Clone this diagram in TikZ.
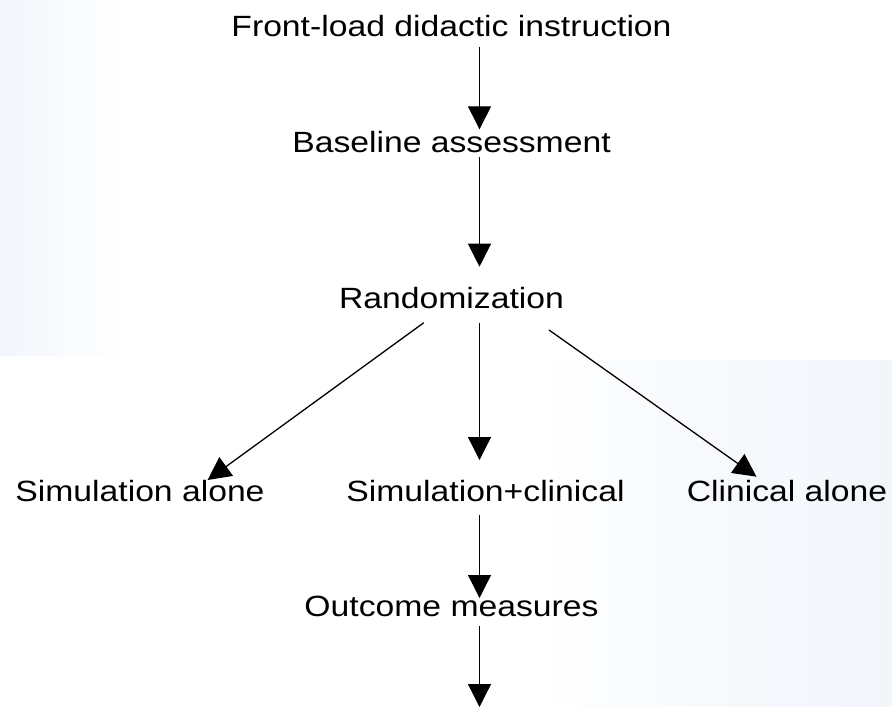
\documentclass[tikz,border=0pt]{standalone}
\usepackage{fontspec}
\newfontfamily\labfont{Liberation Sans}[FakeStretch=1.15]
\usetikzlibrary{arrows.meta}
\definecolor{tintA}{RGB}{242,246,251}
\definecolor{tintB}{RGB}{248,250,253}
\begin{document}
\begin{tikzpicture}[x=1pt,y=-1pt,
  lab/.style={inner sep=0pt,anchor=base,font=\labfont\fontsize{29.3}{32}\selectfont},
  arr/.style={line width=1.3pt,-{Triangle[length=23pt,width=23pt]}},
  ln/.style={line width=1.3pt}]
\useasboundingbox (0,0) rectangle (892,707);
% faint background tints
\fill[white] (0,0) rectangle (892,707);
\shade[left color=tintA,right color=white] (0,0) rectangle (125,355);
\shade[left color=white,right color=tintB] (540,360) rectangle (672,707);
\shade[left color=tintB,right color=tintA] (672,360) rectangle (892,707);
% nodes
\node[lab] (fl) at (451.5,36.7) {Front-load didactic instruction};
\node[lab] (ba) at (451.5,152.7) {Baseline assessment};
\node[lab] (ra) at (451.5,308.3) {Randomization};
\node[lab] (sa) at (140,501.7) {Simulation alone};
\node[lab] (sc) at (485.5,501.7) {Simulation+clinical};
\node[lab] (ca) at (787,501.7) {Clinical alone};
\node[lab] (om) at (451.5,616.7) {Outcome measures};
% connector anchor points
\coordinate (flo) at (479.5,46.7);
\coordinate (bai) at (479.5,129.3);
\coordinate (bao) at (479.5,156.7);
\coordinate (rai) at (479.5,266.7);
\coordinate (raL) at (423.8,322.7);
\coordinate (raM) at (479.5,322.7);
\coordinate (raR) at (549,330);
\coordinate (sai) at (207.6,480);
\coordinate (sci) at (479.5,460);
\coordinate (cai) at (756.5,476.7);
\coordinate (sco) at (479.5,515);
\coordinate (omi) at (479.5,598);
\coordinate (omo) at (479.5,626);
\coordinate (end) at (479.5,707);
% connectors
\draw[arr] (flo) -- (bai);
\draw[arr] (bao) -- (rai);
\draw[arr] (raL) -- (sai);
\draw[arr] (raM) -- (sci);
\draw[arr] (raR) -- (cai);
\draw[arr] (sco) -- (omi);
\draw[arr] (omo) -- (end);
\end{tikzpicture}
\end{document}
